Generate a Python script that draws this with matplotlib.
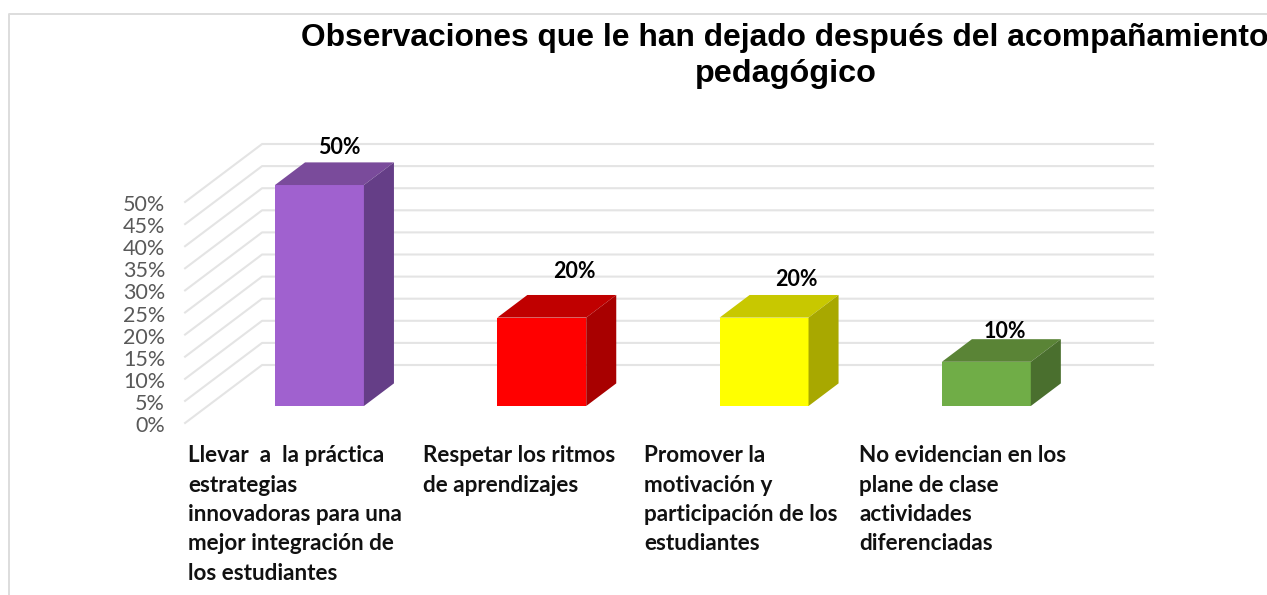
import matplotlib
matplotlib.use('Agg')
import matplotlib.pyplot as plt
from matplotlib.patches import Polygon
from matplotlib.transforms import Affine2D

title_lines = ['Observaciones que le han dejado después del acompañamiento', 'pedagógico']
categories = [
    'Llevar  a  la práctica\nestrategias\ninnovadoras para una\nmejor integración de\nlos estudiantes',
    'Respetar los ritmos\nde aprendizajes',
    'Promover la\nmotivación y\nparticipación de los\nestudiantes',
    'No evidencian en los\nplane de clase\nactividades\ndiferenciadas',
]
values = [50, 20, 20, 10]
ticks = [0, 5, 10, 15, 20, 25, 30, 35, 40, 45, 50]
front_colors = ['#A061CF', '#FF0000', '#FFFF00', '#70AD47']
top_colors = ['#7A4B9B', '#C00000', '#C8C800', '#5A8436']
side_colors = ['#653E87', '#A80000', '#A8A800', '#4A6F2E']

W, H = 1267, 595
BAR_STEP = 222.3     # px between bars
PX_PER_PCT = 4.42
DEPTH_X = 77 / BAR_STEP
DEPTH_Y = 58 / PX_PER_PCT
FLOOR = 0.293        # depth of the bar front in the chart box
BAR_DEPTH = 0.39
BAR_W = 0.4


def project(x, v, d):
    """Oblique projection: x in bar steps, v in percent, d depth 0..1"""
    return x + (d - FLOOR) * DEPTH_X, v + d * DEPTH_Y


def main():
    fig = plt.figure(figsize=(W / 100, H / 100), dpi=100)
    ax = fig.add_axes([0, 0, 1, 1])
    ax.set_xlim(-275 / BAR_STEP, (W - 275) / BAR_STEP)
    ax.set_ylim((423 - H) / PX_PER_PCT, 423 / PX_PER_PCT)
    ax.axis('off')

    # text placed in image pixels
    px = Affine2D().scale(1, -1).translate(0, H)

    # outer frame, only top and left are visible
    ax.plot([8.5, 8.5, W], [H, 13.5, 13.5], transform=px, color='#DDDDDD', lw=1.4, zorder=1)

    # walls
    x_left = -0.303
    x_right = (1153 - 275) / BAR_STEP - (1 - FLOOR) * DEPTH_X
    for t in ticks:
        p0 = project(x_left, t, 0)
        p1 = project(x_left, t, 1)
        p2 = project(x_right, t, 1)
        ax.plot([p0[0], p1[0], p2[0]], [p0[1], p1[1], p2[1]], color='#E4E4E4', lw=1.5, zorder=2)
        ax.text(p0[0] - 20 / BAR_STEP, p0[1] - 3 / PX_PER_PCT, f'{t}%', ha='right', va='center',
                family='Lato', fontsize=15.5, color='#595959')

    # bars
    for i, v in enumerate(values):
        a = project(i, 0, FLOOR)
        b = project(i + BAR_W, 0, FLOOR)
        c = project(i + BAR_W, v, FLOOR)
        d = project(i, v, FLOOR)
        e = project(i + BAR_W, 0, FLOOR + BAR_DEPTH)
        f = project(i + BAR_W, v, FLOOR + BAR_DEPTH)
        g = project(i, v, FLOOR + BAR_DEPTH)
        ax.add_patch(Polygon([a, b, c, d], fc=front_colors[i], ec='none', zorder=3))
        ax.add_patch(Polygon([d, c, f, g], fc=top_colors[i], ec='none', zorder=3))
        ax.add_patch(Polygon([b, e, f, c], fc=side_colors[i], ec='none', zorder=3))

    # value labels sit by hand like in the original
    label_pos = [(339, 147), (574, 271), (796, 279), (1005, 331)]
    for v, (x, y) in zip(values, label_pos):
        ax.text(x, y, f'{v}%', transform=px, ha='center', va='center',
                family='Lato', fontweight='bold', fontsize=15.5, color='black', zorder=4)

    cat_x = [188, 423, 644, 859]
    for x, lab in zip(cat_x, categories):
        ax.text(x, 445.5, lab, transform=px, ha='left', va='top', family='Lato',
                fontweight='bold', fontsize=16.2, color='#111111', linespacing=1.49)

    # the last letter touches the right edge in the original too
    ax.text(301, 38, title_lines[0], transform=px, ha='left', va='center', family='Liberation Sans',
            fontweight='bold', fontsize=22.9, color='black')
    ax.text(785.5, 74, title_lines[1], transform=px, ha='center', va='center', family='Liberation Sans',
            fontweight='bold', fontsize=23.3, color='black')

    fig.savefig('out.png', dpi=100, facecolor='white')


if __name__ == "__main__":
    main()
